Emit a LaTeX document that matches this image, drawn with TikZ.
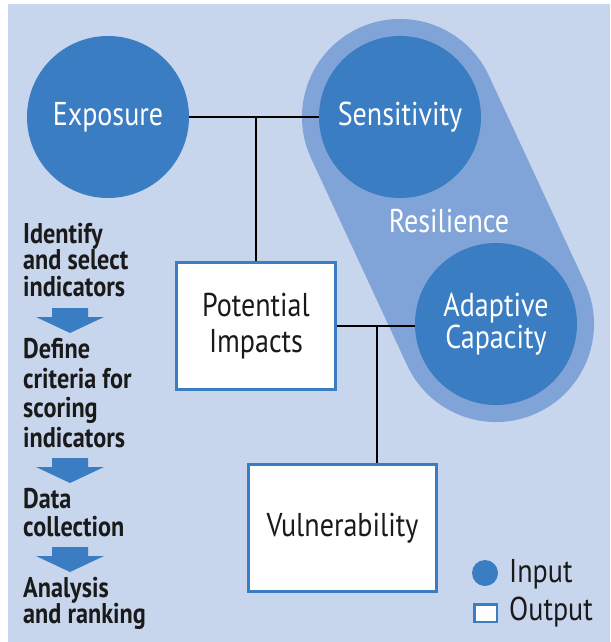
\documentclass[tikz,border=0pt]{standalone}
\usepackage{fontspec}
\setmainfont{PT Sans}[FakeStretch=0.85]
\definecolor{bgblue}{HTML}{C7D6EC}
\definecolor{circblue}{HTML}{3A7DC3}
\definecolor{pillblue}{HTML}{80A4D7}
\definecolor{ink}{HTML}{1A1A1A}
\tikzset{
  inp/.style={circle, fill=circblue, minimum size=162pt, inner sep=0pt, text=white,
    align=center, font=\fontsize{33}{32}\selectfont},
  outb/.style={rectangle, draw=circblue, line width=2.8pt, fill=white, inner sep=0pt,
    text=ink, align=center, font=\fontsize{33}{36}\selectfont},
  conn/.style={draw=black, line width=2.2pt},
  steptext/.style={anchor=base west, inner sep=0pt, text=ink, font=\fontsize{28.5}{28}\selectfont\bfseries},
  legtext/.style={anchor=west, inner sep=0pt, text=ink, font=\fontsize{33}{33}\selectfont},
  dnarrow/.pic={\fill[circblue] (-18,-9) -- (18,-9) -- (18,0) -- (34,0) -- (0,16) -- (-34,0) -- (-18,0) -- cycle;}
}
\begin{document}
\begin{tikzpicture}[x=1pt,y=-1pt]
\useasboundingbox (0,0) rectangle (610,642);
\fill[white] (0,0) rectangle (610,642);
\fill[bgblue] (8,4) rectangle (610,642);

\coordinate (sc) at (400,117);
\coordinate (ac) at (496,324);
\draw[pillblue, line width=196pt, line cap=round] (sc) -- (ac);

\node[inp] (expo) at (108,117) {Exposure};
\node[inp] (sens) at (sc) {Sensitivity};
\node[inp] (adapt) at (ac) {Adaptive\\Capacity};
\node[text=white, inner sep=0pt, font=\fontsize{33}{32}\selectfont] (res) at (449,221) {Resilience};

\node[outb, minimum width=159pt, minimum height=127pt] (pot) at (256,326) {Potential\\Impacts};
\node[outb, minimum width=188pt, minimum height=127pt] (vul) at (342.5,528) {Vulnerability};

\draw[conn] (expo.east) -- (sens.west);
\draw[conn] (pot.north) -- (pot.north |- expo.east);
\draw[conn] (pot.east) -- (pot.east -| adapt.west);
\coordinate (j2) at (377,0);
\draw[conn] (pot.east -| j2) -- (vul.north -| j2);

\node[steptext] (l1) at (23,243) {Identify};
\node[steptext] (l2) at (23,269) {and select};
\node[steptext] (l3) at (23,296) {indicators};
\node[steptext] (l4) at (23,358) {Define};
\node[steptext] (l5) at (23,388) {criteria for};
\node[steptext] (l6) at (23,417) {scoring};
\node[steptext] (l7) at (23,447) {indicators};
\node[steptext] (l8) at (23,508) {Data};
\node[steptext] (l9) at (23,536) {collection};
\node[steptext] (l10) at (23,597) {Analysis};
\node[steptext] (l11) at (23,623) {and ranking};

\pic at (70,317) {dnarrow};
\pic at (70,467) {dnarrow};
\pic at (70,556) {dnarrow};

\node[circle, fill=circblue, minimum size=26pt, inner sep=0pt] (lin) at (485,573) {};
\node[legtext] (tin) at (509,574) {Input};
\node[rectangle, draw=circblue, fill=white, line width=2.5pt, minimum width=22.5pt, minimum height=17.5pt, inner sep=0pt] (lout) at (485.5,613) {};
\node[legtext] (tout) at (509,612) {Output};
\end{tikzpicture}
\end{document}
